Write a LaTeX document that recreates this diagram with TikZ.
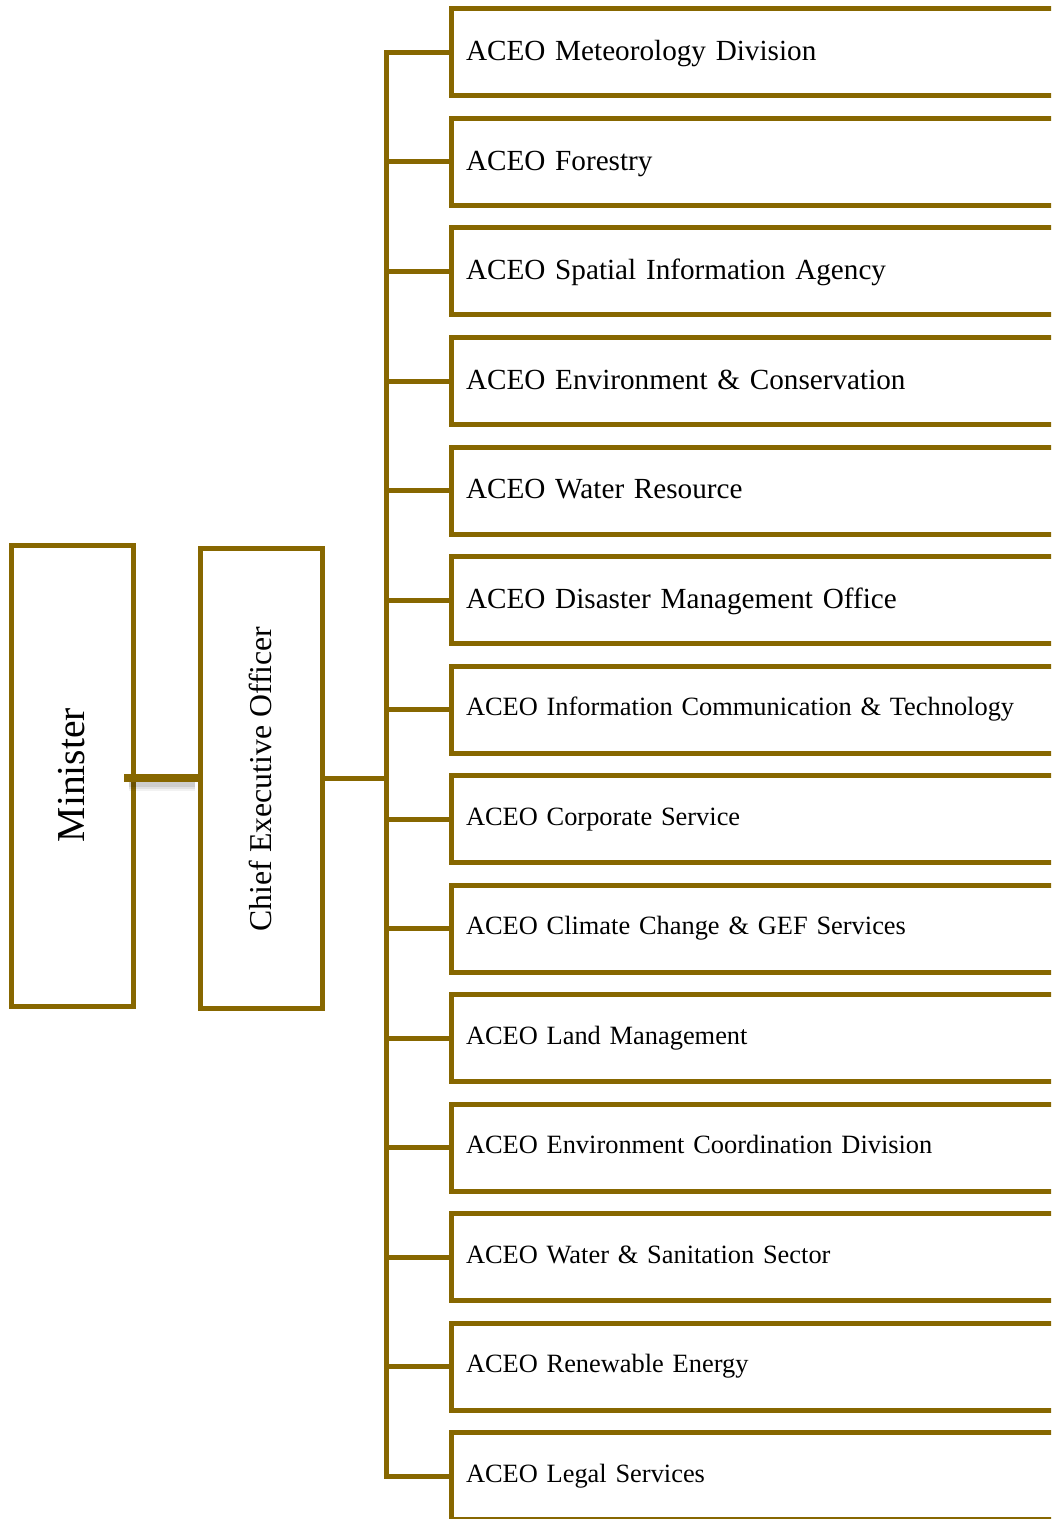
\documentclass[tikz,border=0pt]{standalone}
\usepackage{fontspec}
\setmainfont{Liberation Serif}
\usetikzlibrary{calc}
\definecolor{gold}{RGB}{135,103,0}
\begin{document}
\begin{tikzpicture}[x=0.5pt,y=-0.5pt,
  boxline/.style={draw=gold,line width=2.5pt},
  div/.style={boxline,anchor=west,minimum width=325pt,minimum height=43.5pt,
    text width=310pt,inner xsep=7.5pt,inner ysep=0pt,align=left,outer sep=0pt},
  big/.style={div,font=\fontsize{14.6}{16}\selectfont,text height=12pt,text depth=3.7pt},
  small/.style={div,font=\fontsize{13.2}{15}\selectfont,text height=11pt,text depth=4.8pt},
  link/.style={draw=gold,line width=2.5pt},
  topbox/.style={boxline,minimum width=61pt,outer sep=0pt,inner sep=0pt}]
\useasboundingbox (0,0) rectangle (1051,1519);
\clip (0,0) rectangle (1051,1519);
% top boxes
\node[topbox,minimum height=230.5pt] (min) at (72,776) {};
\node[rotate=90,font=\fontsize{19.8}{22}\selectfont] (mint) at (72,775) {Minister};
\node[topbox,minimum height=230pt] (ceo) at (261,778) {};
\node[rotate=90,font=\fontsize{15.9}{18}\selectfont] (ceot) at (260,779) {Chief Executive Officer};
% divisions
\foreach \i/\t/\s in {1/ACEO Meteorology Division/big,
  2/ACEO Forestry/big,
  3/ACEO Spatial Information Agency/big,
  4/ACEO Environment \& Conservation/big,
  5/ACEO Water Resource/big,
  6/ACEO Disaster Management Office/big,
  7/ACEO Information Communication \& Technology/small,
  8/ACEO Corporate Service/small,
  9/ACEO Climate Change \& GEF Services/small,
  10/ACEO Land Management/small,
  11/ACEO Environment Coordination Division/small,
  12/ACEO Water \& Sanitation Sector/small,
  13/ACEO Renewable Energy/small,
  14/ACEO Legal Services/small}
  {\node[\s] (d\i) at (451,{52.5+109.5*(\i-1)}) {\t};}
% trunk
\coordinate (ttop) at (386,52.5);
\coordinate (tbot) at (386,1476);
\coordinate (tmid) at (386,778);
\draw[link,line cap=rect] (d1.west) -- (ttop) -- (tbot) -- (d14.west);
\foreach \i in {2,...,13} {\draw[link] (d\i.west) -- (d\i.west -| tmid);}
\draw[link] (ceo.east) -- (tmid);
% minister to CEO with soft shadow
\coordinate (mc) at ($(min.east |- ceo.west)+(-9,0)$);
\coordinate (cm) at ($(ceo.west)+(-2.5,0)$);
\foreach \w/\o in {14/0.05,10/0.07,6/0.09}
  {\draw[line width=\w*0.5pt,black,opacity=\o] ($(mc)+(5,6)$) -- ($(cm)+(-3,6)$);}
\draw[line width=4pt,gold] (mc) -- (cm);
\end{tikzpicture}
\end{document}
